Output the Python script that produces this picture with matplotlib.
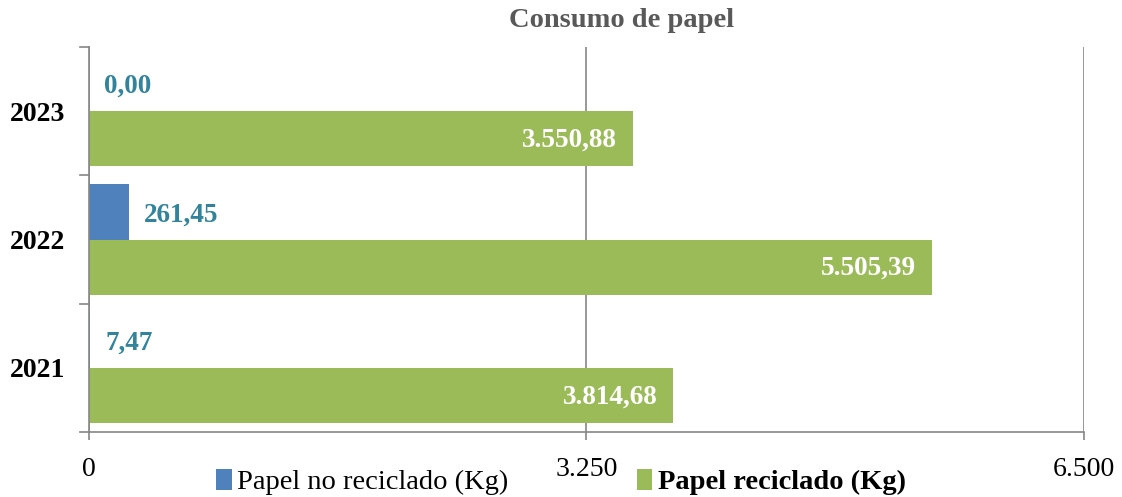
import numpy as np
import matplotlib.pyplot as plt

years = ["2021", "2022", "2023"]
no_reciclado = [7.47, 261.45, 0.00]
reciclado = [3814.68, 5505.39, 3550.88]
ticks = [0, 3250, 6500]

plt.rcParams['font.family'] = ['Liberation Serif', 'DejaVu Serif']

def es_fmt(v, dec=2):
    s = f"{v:,.{dec}f}"
    return s.replace(",", "X").replace(".", ",").replace("X", ".")

blue = "#4F81BD"
green = "#9BBB59"
gray = "#868686"

fig = plt.figure(figsize=(11.22, 4.97), dpi=100)
ax = fig.add_axes([0.0793, 0.1308, 0.9661 - 0.0793, 0.9054 - 0.1308])

y = np.arange(len(years))
h = 0.43
ax.barh(y + h / 2, no_reciclado, height=h, color=blue, label="Papel no reciclado (Kg)")
ax.barh(y - h / 2, reciclado, height=h, color=green, label="Papel reciclado (Kg)")

for yi, v in zip(y, no_reciclado):
    ax.annotate(es_fmt(v), (v, yi + h / 2), xytext=(11, -2), textcoords="offset points",
                ha="left", va="center", color="#31849B", fontsize=19.5, fontweight="bold")
for yi, v in zip(y, reciclado):
    ax.annotate(es_fmt(v), (v, yi - h / 2), xytext=(-11, -1), textcoords="offset points",
                ha="right", va="center", color="white", fontsize=19.5, fontweight="bold")

ax.set_xlim(0, 6500)
ax.set_ylim(-0.5, 2.5)
ax.set_xticks(ticks)
ax.set_xticklabels([es_fmt(t, 0) for t in ticks], fontsize=20)
ax.tick_params(axis="x", length=6, color=gray, pad=12, width=1.2)
ax.set_yticks(y)
ax.set_yticklabels(years, fontsize=20, fontweight="bold")
ax.tick_params(axis="y", length=0, pad=17)
for b in [-0.5, 0.5, 1.5, 2.5]:
    ax.plot([-0.009, 0], [b, b], transform=ax.get_yaxis_transform(), color=gray,
            lw=1.2, clip_on=False)

ax.grid(axis="x", color=gray, lw=1.2)
ax.set_axisbelow(True)
for s in ["top", "right"]:
    ax.spines[s].set_visible(False)
for s in ["left", "bottom"]:
    ax.spines[s].set_color(gray)
    ax.spines[s].set_linewidth(1.2)

fig.suptitle("Consumo de papel", x=0.554, y=0.983, fontsize=20.5, fontweight="bold", color="#595959")

leg = fig.legend(loc="center", bbox_to_anchor=(0.5, 0.03), ncol=2, frameon=False,
                 fontsize=20.5, handlelength=0.55, handleheight=0.75, handletextpad=0.2,
                 columnspacing=4.5, borderpad=0)
leg.get_texts()[1].set_fontweight("bold")

fig.savefig("out.png", dpi=100)
